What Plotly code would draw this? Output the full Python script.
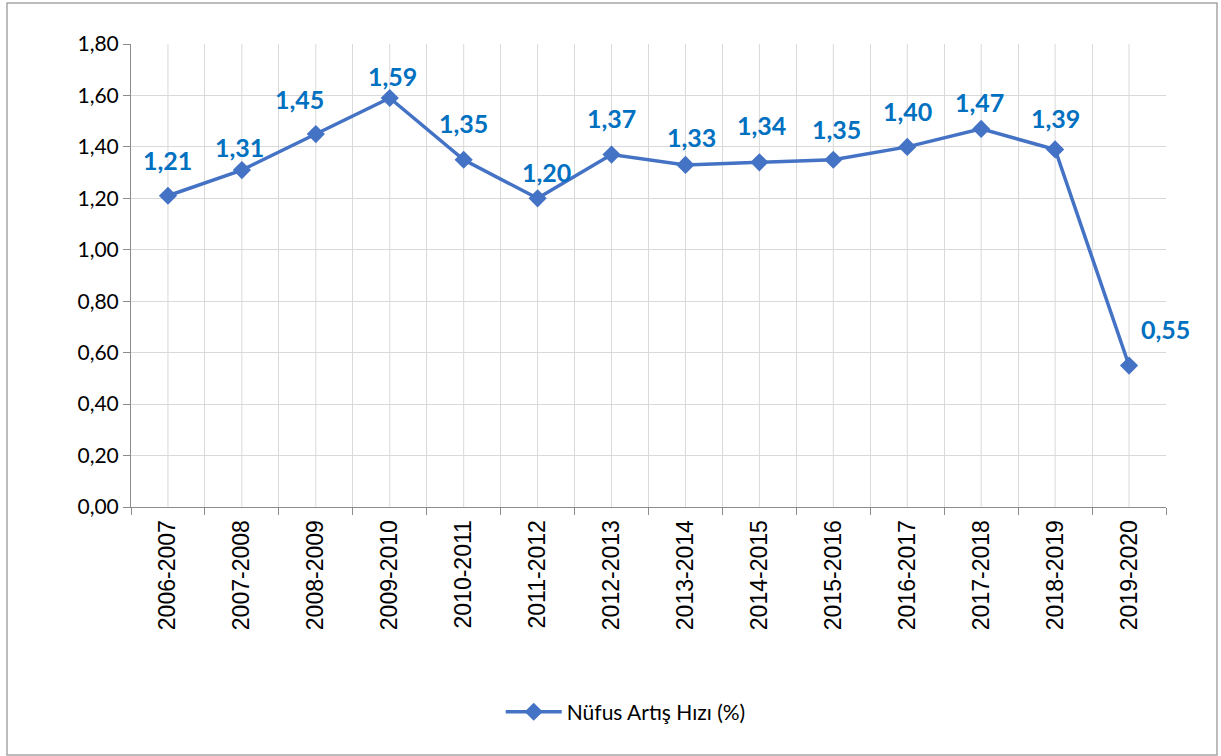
import plotly.graph_objects as go

categories = ["2006-2007", "2007-2008", "2008-2009", "2009-2010", "2010-2011",
              "2011-2012", "2012-2013", "2013-2014", "2014-2015", "2015-2016",
              "2016-2017", "2017-2018", "2018-2019", "2019-2020"]
values = [1.21, 1.31, 1.45, 1.59, 1.35, 1.20, 1.37, 1.33, 1.34, 1.35, 1.40, 1.47, 1.39, 0.55]
series_name = "Nüfus Artış Hızı (%)"
y_ticks = [0.0, 0.2, 0.4, 0.6, 0.8, 1.0, 1.2, 1.4, 1.6, 1.8]

# label placement offsets in pixels (dx, dy) as in the reference
label_offsets = [(0, 36), (-2, 23), (-16, 35), (3, 22), (0, 37), (9, 26), (0, 37),
                 (6, 28), (2, 37), (3, 31), (0, 36), (-2, 27), (0, 31), (36, 37)]

LINE = "#4472C4"
LABEL = "#0070C0"
GRID = "#D9D9D9"
AXIS = "#8C8C8C"

fig = go.Figure()
fig.add_trace(go.Scatter(
    x=categories, y=values, name=series_name, mode="lines+markers",
    line=dict(color=LINE, width=3.5),
    marker=dict(symbol="diamond", size=14, color=LINE),
    showlegend=True,
))

for c, v, (dx, dy) in zip(categories, values, label_offsets):
    fig.add_annotation(
        x=c, y=v, text=f"{v:.2f}".replace(".", ","), showarrow=False,
        xshift=dx, yshift=dy,
        font=dict(family="Lato", size=25, color=LABEL, weight="bold"),
    )

# vertical gridlines at category centres
for c in categories:
    fig.add_shape(type="line", xref="x", yref="paper", x0=c, x1=c, y0=0, y1=1,
                  line=dict(color=GRID, width=1), layer="below")

# outer chart border
fig.add_shape(type="rect", xref="paper", yref="paper",
              x0=(7 - 131) / 1035, x1=(1217 - 131) / 1035,
              y0=(507 - 755) / 463, y1=(507 - 3) / 463,
              line=dict(color="#A6A6A6", width=1.5), layer="below")

fig.update_layout(
    width=1221, height=756,
    margin=dict(l=131, r=55, t=44, b=249),
    paper_bgcolor="white", plot_bgcolor="white",
    separators=",.",
    showlegend=True,
    legend=dict(orientation="h", x=0.478, xanchor="center", y=-0.443, yanchor="middle",
                font=dict(family="Lato", size=21, color="#000000"),
                itemwidth=56),
    xaxis=dict(
        type="category", range=[-0.5, 13.5], tickson="boundaries",
        showgrid=True, gridcolor=GRID, gridwidth=1,
        ticks="outside", ticklen=7, tickcolor=AXIS, tickwidth=1,
        showline=True, linecolor=AXIS, linewidth=1,
        tickangle=-90, ticklabelstandoff=3,
        tickfont=dict(family="Arial, 'Liberation Sans', sans-serif", size=23, color="#000000"),
    ),
    yaxis=dict(
        range=[0, 1.8], tickvals=y_ticks, tickformat=".2f",
        showgrid=True, gridcolor=GRID, gridwidth=1,
        ticks="outside", ticklen=7, tickcolor=AXIS, tickwidth=1,
        showline=True, linecolor=AXIS, linewidth=1,
        zeroline=False,
        tickfont=dict(family="Lato", size=21, color="#000000"),
    ),
)

fig.write_html("out.html", config={"displayModeBar": False},
               post_script="document.body.style.margin='0';document.body.style.overflow='hidden';")
